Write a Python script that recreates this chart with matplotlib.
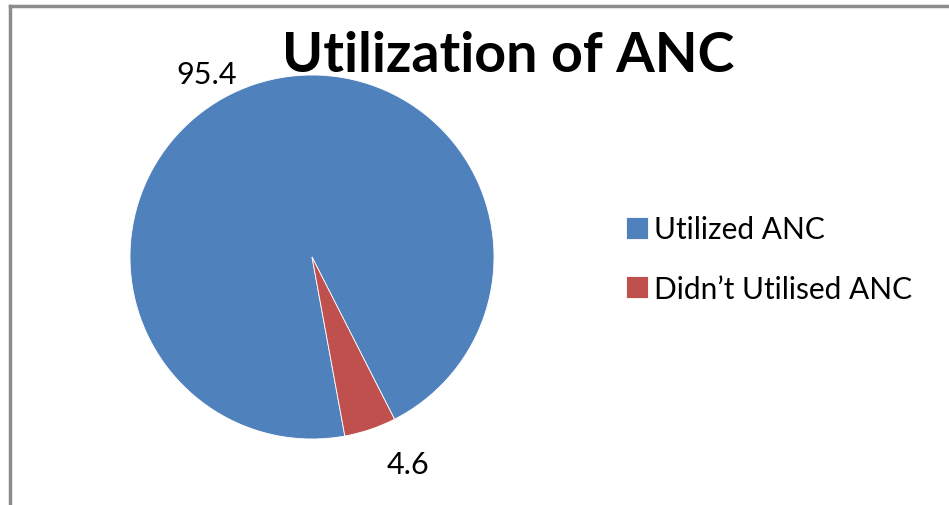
import matplotlib.pyplot as plt
from matplotlib.lines import Line2D

# ── data ──
categories = ["Utilized ANC", "Didn\u2019t Utilised ANC"]
values = [95.4, 4.6]
value_labels = ["95.4", "4.6"]
colors = ["#4F81BD", "#C0504D"]

plt.rcParams["font.family"] = ["Lato", "DejaVu Sans"]

W, H = 949, 506
fig = plt.figure(figsize=(W / 100, H / 100), dpi=100)

# chart frame (left and top edges visible)
fig.add_artist(Line2D([10 / W, 10 / W], [0, 1 - 7 / H], color="#8c8c8c", lw=2.5))
fig.add_artist(Line2D([10 / W, 1], [1 - 7 / H, 1 - 7 / H], color="#8c8c8c", lw=2.5))

# pie axes: centre (312, 258) px, radius 182 px
cx, cy, r = 312, 258, 182
ax = fig.add_axes([(cx - r) / W, 1 - (cy + r) / H, 2 * r / W, 2 * r / H])
wedges, _ = ax.pie(values, colors=colors, startangle=-79.6, counterclock=False,
                   radius=1.0, wedgeprops=dict(linewidth=0.6, edgecolor="white"))
ax.set_xlim(-1, 1)
ax.set_ylim(-1, 1)
ax.set_aspect("equal")
ax.axis("off")

# data labels (best-fit style, outside the pie)
label_pos = [(-0.577, 1.005), (0.527, -1.137)]
for (lx, ly), txt in zip(label_pos, value_labels):
    ax.text(lx, ly, txt, ha="center", va="center", fontsize=22, clip_on=False)

fig.text(508 / W, 1 - 56 / H, "Utilization of ANC", ha="center", va="center",
         fontsize=40, fontweight="bold")

fig.legend(wedges, categories, loc="center left",
           bbox_to_anchor=(626 / W, 1 - 260 / H), frameon=False,
           fontsize=21.5, handlelength=0.75, handleheight=0.75,
           handletextpad=0.2, labelspacing=1.05, borderaxespad=0,
           borderpad=0)

fig.savefig("out.png", dpi=100, facecolor="white")
